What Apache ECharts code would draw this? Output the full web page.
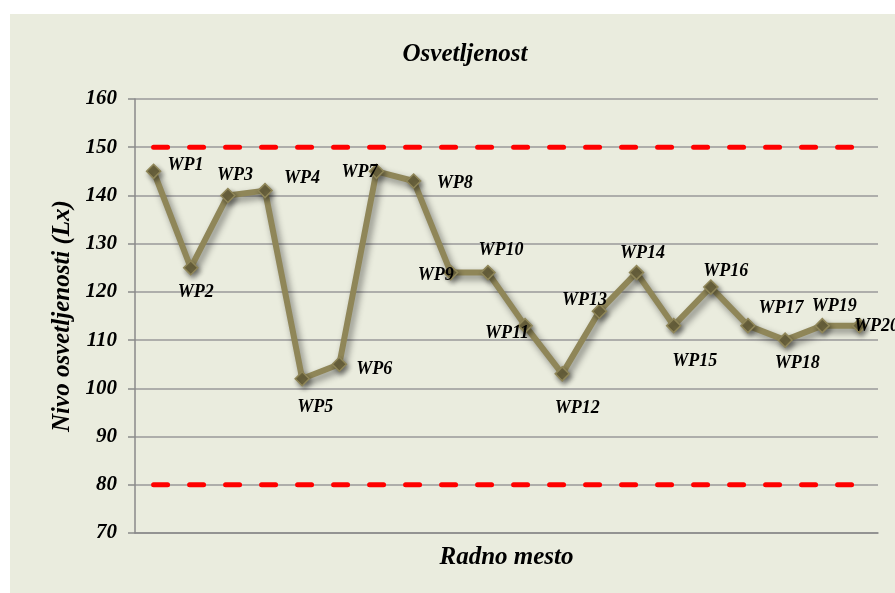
<!DOCTYPE html>
<html>
<head>
<meta charset="utf-8">
<script src="https://cdn.jsdelivr.net/npm/echarts@6/dist/echarts.min.js"></script>
<style>
  html, body { margin: 0; padding: 0; background: #ffffff; }
  #chart { width: 895px; height: 593px; }
</style>
</head>
<body>
<div id="chart"></div>
<script>
// ---- data ----
var categories = ['WP1','WP2','WP3','WP4','WP5','WP6','WP7','WP8','WP9','WP10',
                  'WP11','WP12','WP13','WP14','WP15','WP16','WP17','WP18','WP19','WP20'];
var illuminance = [145, 125, 140, 141, 102, 105, 145, 143, 124, 124,
                   113, 103, 116, 124, 113, 121, 113, 110, 113, 113];
var upperLimit = [150,150,150,150,150,150,150,150,150,150,150,150,150,150,150,150,150,150,150,150];
var lowerLimit = [80,80,80,80,80,80,80,80,80,80,80,80,80,80,80,80,80,80,80,80];
var yTicks = { min: 70, max: 160, interval: 10 };

// ---- label placement (style) ----
var labelOffsets = [
  [32,-6],[5,25],[7,-20],[37,-12],[13,29],[35,5],[-17,1],[41,2],[-15,3],[13,-22],
  [-18,8],[15,34],[-15,-11],[6,-19],[21,36],[15,-16],[33,-17],[12,23],[12,-19],[17,1]
];

var serif = '"Liberation Serif", "Times New Roman", serif';

var mainData = illuminance.map(function (v, i) {
  return {
    value: v,
    label: { position: 'inside', offset: labelOffsets[i] }
  };
});

var chart = echarts.init(document.getElementById('chart'), null, { renderer: 'canvas' });
chart.setOption({
  backgroundColor: '#ffffff',
  animation: false,
  graphic: [{
    type: 'rect',
    z: -100,
    silent: true,
    shape: { x: 10, y: 14, width: 885, height: 579 },
    style: { fill: '#eaecde' }
  }],
  title: {
    text: 'Osvetljenost',
    left: 460,
    top: 37,
    textAlign: 'center',
    textStyle: { fontFamily: serif, fontStyle: 'italic', fontWeight: 'bold', fontSize: 25, color: '#000' }
  },
  grid: { left: 135, top: 99, right: 17, bottom: 60, containLabel: false },
  xAxis: {
    type: 'category',
    data: categories,
    boundaryGap: true,
    name: 'Radno mesto',
    nameLocation: 'middle',
    nameGap: 12,
    nameTextStyle: { fontFamily: serif, fontStyle: 'italic', fontWeight: 'bold', fontSize: 25, color: '#000', verticalAlign: 'top' },
    axisLine: { show: true, lineStyle: { color: '#8a8a8a', width: 1.5 } },
    axisTick: { show: false },
    axisLabel: { show: false },
    splitLine: { show: false }
  },
  yAxis: {
    type: 'value',
    min: yTicks.min,
    max: yTicks.max,
    interval: yTicks.interval,
    name: 'Nivo osvetljenosti (Lx)',
    nameLocation: 'middle',
    nameGap: 59,
    nameRotate: 90,
    nameTextStyle: { fontFamily: serif, fontStyle: 'italic', fontWeight: 'bold', fontSize: 25, color: '#000' },
    axisLine: { show: true, lineStyle: { color: '#8a8a8a', width: 1.5 } },
    axisTick: { show: true, inside: false, length: 7, lineStyle: { color: '#8a8a8a', width: 1.5 } },
    axisLabel: { margin: 18, fontFamily: serif, fontStyle: 'italic', fontWeight: 'bold', fontSize: 21, color: '#000' },
    splitLine: { show: true, lineStyle: { color: '#9a9a9a', width: 1.5 } }
  },
  series: [
    {
      name: 'Gornja granica',
      type: 'line',
      data: upperLimit,
      symbol: 'none',
      z: 1,
      lineStyle: { color: '#ff0000', width: 5, type: [14, 22], cap: 'round' }
    },
    {
      name: 'Donja granica',
      type: 'line',
      data: lowerLimit,
      symbol: 'none',
      z: 1,
      lineStyle: { color: '#ff0000', width: 5, type: [14, 22], cap: 'round' }
    },
    {
      name: 'Osvetljenost',
      type: 'line',
      data: mainData,
      z: 3,
      symbol: 'diamond',
      symbolSize: 14,
      lineStyle: {
        color: '#8f8658', width: 6,
        shadowColor: 'rgba(0,0,0,0.45)', shadowBlur: 7, shadowOffsetX: 3, shadowOffsetY: 4
      },
      itemStyle: {
        color: '#6f6740', borderColor: '#8f8658', borderWidth: 1.5,
        shadowColor: 'rgba(0,0,0,0.4)', shadowBlur: 5, shadowOffsetX: 2, shadowOffsetY: 3
      },
      label: {
        show: true,
        formatter: function (p) { return p.name; },
        fontFamily: serif, fontStyle: 'italic', fontWeight: 'bold', fontSize: 18, color: '#000',
        align: 'center', verticalAlign: 'middle'
      }
    }
  ]
});
</script>
</body>
</html>
